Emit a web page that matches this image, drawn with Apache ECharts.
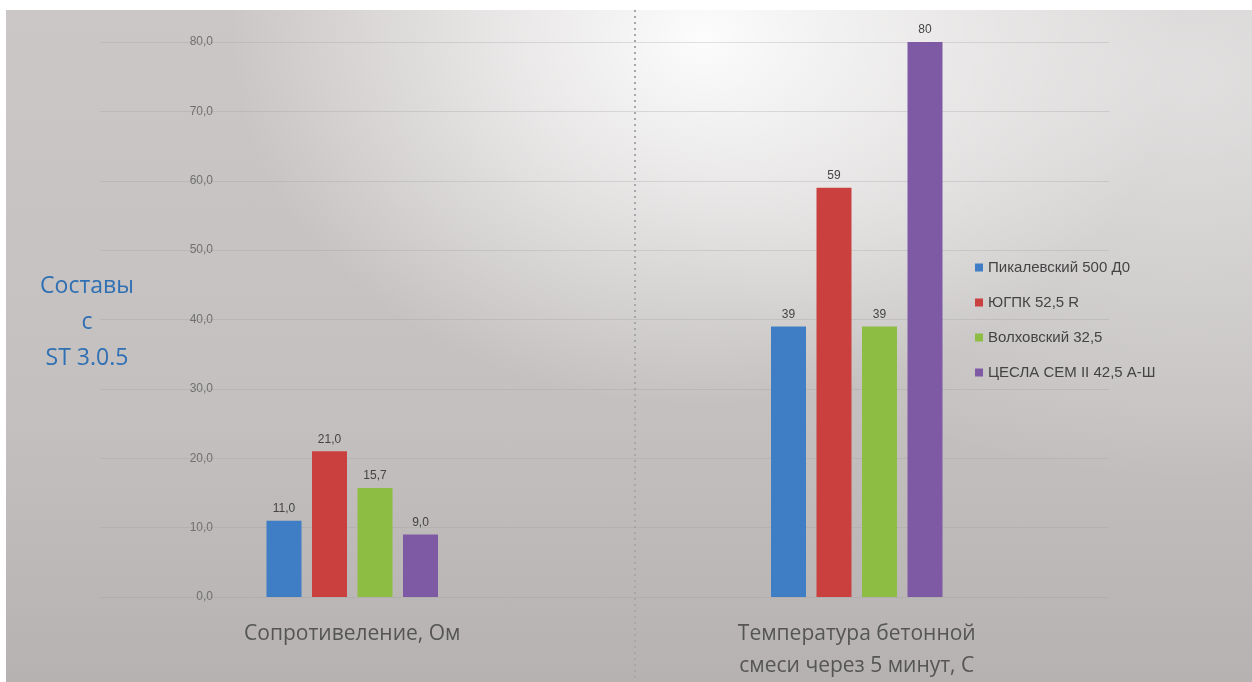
<!DOCTYPE html>
<html>
<head>
<meta charset="utf-8">
<script src="https://cdn.jsdelivr.net/npm/echarts@6/dist/echarts.min.js"></script>
<style>
html,body{margin:0;padding:0;background:#fff;}
#wrap{width:1252px;height:682px;background:#fff;position:relative;}
#bg{position:absolute;left:6px;top:10px;right:0;bottom:0;background:
 radial-gradient(ellipse 38% 55% at 56% 4%, rgba(255,255,255,0.95) 0%, rgba(255,255,255,0.6) 40%, rgba(255,255,255,0) 100%),
 radial-gradient(ellipse 45% 60% at 95% 10%, rgba(240,240,240,0.6) 0%, rgba(240,240,240,0) 100%),
 linear-gradient(to bottom, #cbc7c6 0%, #c3c0bf 60%, #b5b2b1 100%);}
#c{position:absolute;left:0;top:0;width:1252px;height:682px;}
</style>
</head>
<body>
<div id="wrap"><div id="bg"></div><div id="c"></div></div>
<script>
const categories = ['Сопротивеление, Ом', 'Температура бетонной\nсмеси через 5 минут, С'];
const seriesNames = ['Пикалевский 500 Д0', 'ЮГПК 52,5 R', 'Волховский 32,5', 'ЦЕСЛА CEM II 42,5 А-Ш'];
const pikalevsky = [11.0, 39];
const yugpk = [21.0, 59];
const volkhovsky = [15.7, 39];
const tsesla = [9.0, 80];
const colors = ['#3f7dc5', '#c9403e', '#8dbd42', '#7f5aa4'];
const yTicks = {min: 0, max: 80, interval: 10};

const chart = echarts.init(document.getElementById('c'), null, {renderer: 'canvas'});
const values = [pikalevsky, yugpk, volkhovsky, tsesla];
const series = seriesNames.map((n, i) => ({
  name: n,
  type: 'bar',
  data: values[i],
  barWidth: 35,
  barGap: '30%',
  itemStyle: {color: colors[i]},
  label: {
    show: true, position: 'top', distance: 6,
    color: '#444', fontSize: 12, fontFamily: 'Liberation Sans Narrow, Liberation Sans, Arial',
    formatter: p => p.dataIndex === 0 ? p.value.toFixed(1).replace('.', ',') : String(Math.round(p.value))
  }
}));

chart.setOption({
  backgroundColor: 'transparent',
  animation: false,
  grid: {left: 100, right: 143, top: 42, bottom: 85, containLabel: false},
  legend: {
    orient: 'vertical', left: 970, top: 255,
    itemWidth: 8, itemHeight: 8, itemGap: 20, icon: 'rect',
    textStyle: {color: '#444', fontSize: 15, fontFamily: 'Liberation Sans Narrow, Liberation Sans, Arial'},
    data: seriesNames
  },
  xAxis: {
    type: 'category', data: categories,
    axisLine: {show: false}, axisTick: {show: false},
    axisLabel: {color: '#555', fontSize: 21, lineHeight: 32, margin: 21, fontFamily: 'Open Sans, Noto Sans'}
  },
  yAxis: {
    type: 'value', min: yTicks.min, max: yTicks.max, interval: yTicks.interval,
    offset: -121,
    axisLine: {show: false}, axisTick: {show: false},
    axisLabel: {color: '#707070', fontSize: 12, margin: 8, fontFamily: 'Liberation Sans Narrow, Liberation Sans, Arial',
      formatter: v => v.toFixed(1).replace('.', ',')},
    splitLine: {lineStyle: {color: 'rgba(160,160,160,0.3)', width: 1}}
  },
  graphic: [
    {type: 'line', shape: {x1: 635, y1: 10, x2: 635, y2: 682}, silent: true,
     style: {stroke: '#a8a8a8', lineWidth: 2, lineDash: [2, 4]}},
    {type: 'text', x: 87, y: 268, silent: true,
     style: {text: 'Составы\nс\nST 3.0.5', fill: '#2f6fb3', font: '23px "Open Sans", "Noto Sans"', lineHeight: 36, align: 'center'}}
  ],
  series: series
});
</script>
</body>
</html>
